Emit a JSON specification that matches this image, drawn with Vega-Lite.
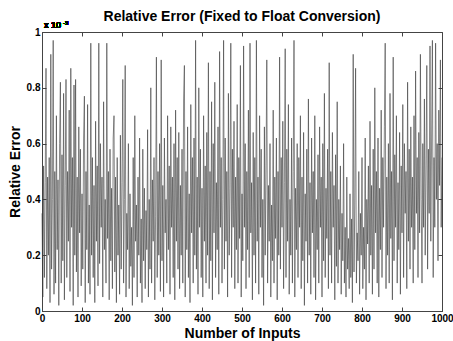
{
"$schema":"https://vega.github.io/schema/vega-lite/v6.json",
"width":400,"height":279,
"autosize":{"type":"none"},
"padding":{"left":42,"top":32,"right":11,"bottom":30},
"background":"white",
"title":{"text":"Relative Error (Fixed to Float Conversion)","font":"Liberation Sans","fontSize":14,"fontWeight":"bold","color":"black","anchor":"middle","offset":-4,"frame":"group"},
"config":{"view":{"stroke":"#444","strokeWidth":1},"axis":{"labelFont":"Liberation Sans","labelFontWeight":"bold","labelFontSize":10,"labelColor":"black","titleFont":"Liberation Sans","titleFontWeight":"bold","titleFontSize":14,"titleColor":"black","grid":false,"domainColor":"#444","tickColor":"#444","tickSize":-4,"labelOverlap":false,"labelBound":false,"labelFlush":false,"labelPadding":6}},
"resolve":{"axis":{"x":"independent","y":"independent"}},
"data":{"values":[
{"x":0,"y":0.35},{"x":2,"y":0.05},{"x":4,"y":0.52},{"x":6,"y":0.12},{"x":8,"y":0.46},
{"x":10,"y":0.87},{"x":12,"y":0.08},{"x":14,"y":0.48},{"x":16,"y":0.2},{"x":18,"y":0.55},
{"x":20,"y":0.03},{"x":22,"y":0.92},{"x":24,"y":0.15},{"x":26,"y":0.4},{"x":28,"y":0.97},
{"x":30,"y":0.06},{"x":32,"y":0.5},{"x":34,"y":0.1},{"x":36,"y":0.7},{"x":38,"y":0.22},
{"x":40,"y":0.47},{"x":42,"y":0.02},{"x":44,"y":0.6},{"x":46,"y":0.82},{"x":48,"y":0.1},
{"x":50,"y":0.56},{"x":52,"y":0.18},{"x":54,"y":0.78},{"x":56,"y":0.04},{"x":58,"y":0.45},
{"x":60,"y":0.83},{"x":62,"y":0.12},{"x":64,"y":0.5},{"x":66,"y":0.25},{"x":68,"y":0.72},
{"x":70,"y":0.07},{"x":72,"y":0.87},{"x":74,"y":0.3},{"x":76,"y":0.55},{"x":78,"y":0.02},
{"x":80,"y":0.81},{"x":82,"y":0.2},{"x":84,"y":0.83},{"x":86,"y":0.14},{"x":88,"y":0.48},
{"x":90,"y":0.05},{"x":92,"y":0.66},{"x":94,"y":0.28},{"x":96,"y":0.58},{"x":98,"y":0.09},
{"x":100,"y":0.42},{"x":102,"y":0.15},{"x":104,"y":0.62},{"x":106,"y":0.77},{"x":108,"y":0.03},
{"x":110,"y":0.5},{"x":112,"y":0.22},{"x":114,"y":0.74},{"x":116,"y":0.1},{"x":118,"y":0.38},
{"x":120,"y":0.06},{"x":122,"y":0.96},{"x":124,"y":0.2},{"x":126,"y":0.55},{"x":128,"y":0.12},
{"x":130,"y":0.45},{"x":132,"y":0.03},{"x":134,"y":0.68},{"x":136,"y":0.25},{"x":138,"y":0.52},
{"x":140,"y":0.09},{"x":142,"y":0.96},{"x":144,"y":0.17},{"x":146,"y":0.6},{"x":148,"y":0.3},
{"x":150,"y":0.48},{"x":152,"y":0.05},{"x":154,"y":0.75},{"x":156,"y":0.22},{"x":158,"y":0.4},
{"x":160,"y":0.1},{"x":162,"y":0.96},{"x":164,"y":0.26},{"x":166,"y":0.5},{"x":168,"y":0.04},
{"x":170,"y":0.58},{"x":172,"y":0.18},{"x":174,"y":0.44},{"x":176,"y":0.08},{"x":178,"y":0.62},
{"x":180,"y":0.7},{"x":182,"y":0.14},{"x":184,"y":0.48},{"x":186,"y":0.03},{"x":188,"y":0.55},
{"x":190,"y":0.2},{"x":192,"y":0.38},{"x":194,"y":0.06},{"x":196,"y":0.63},{"x":198,"y":0.15},
{"x":200,"y":0.46},{"x":202,"y":0.83},{"x":204,"y":0.1},{"x":206,"y":0.4},{"x":208,"y":0.88},
{"x":210,"y":0.05},{"x":212,"y":0.35},{"x":214,"y":0.22},{"x":216,"y":0.6},{"x":218,"y":0.08},
{"x":220,"y":0.42},{"x":222,"y":0.16},{"x":224,"y":0.3},{"x":226,"y":0.02},{"x":228,"y":0.55},
{"x":230,"y":0.12},{"x":232,"y":0.7},{"x":234,"y":0.25},{"x":236,"y":0.38},{"x":238,"y":0.05},
{"x":240,"y":0.48},{"x":242,"y":0.2},{"x":244,"y":0.62},{"x":246,"y":0.1},{"x":248,"y":0.33},
{"x":250,"y":0.03},{"x":252,"y":0.58},{"x":254,"y":0.18},{"x":256,"y":0.44},{"x":258,"y":0.08},
{"x":260,"y":0.36},{"x":262,"y":0.22},{"x":264,"y":0.65},{"x":266,"y":0.05},{"x":268,"y":0.4},
{"x":270,"y":0.15},{"x":272,"y":0.8},{"x":274,"y":0.1},{"x":276,"y":0.47},{"x":278,"y":0.25},
{"x":280,"y":0.55},{"x":282,"y":0.04},{"x":284,"y":0.34},{"x":286,"y":0.91},{"x":288,"y":0.12},
{"x":290,"y":0.5},{"x":292,"y":0.2},{"x":294,"y":0.6},{"x":296,"y":0.07},{"x":298,"y":0.9},
{"x":300,"y":0.18},{"x":302,"y":0.45},{"x":304,"y":0.05},{"x":306,"y":0.62},{"x":308,"y":0.28},
{"x":310,"y":0.4},{"x":312,"y":0.1},{"x":314,"y":0.7},{"x":316,"y":0.22},{"x":318,"y":0.52},
{"x":320,"y":0.06},{"x":322,"y":0.66},{"x":324,"y":0.3},{"x":326,"y":0.48},{"x":328,"y":0.12},
{"x":330,"y":0.6},{"x":332,"y":0.04},{"x":334,"y":0.72},{"x":336,"y":0.25},{"x":338,"y":0.55},
{"x":340,"y":0.15},{"x":342,"y":0.64},{"x":344,"y":0.08},{"x":346,"y":0.45},{"x":348,"y":0.2},
{"x":350,"y":0.58},{"x":352,"y":0.1},{"x":354,"y":0.76},{"x":356,"y":0.88},{"x":358,"y":0.05},
{"x":360,"y":0.5},{"x":362,"y":0.22},{"x":364,"y":0.66},{"x":366,"y":0.12},{"x":368,"y":0.42},
{"x":370,"y":0.03},{"x":372,"y":0.74},{"x":374,"y":0.28},{"x":376,"y":0.55},{"x":378,"y":0.1},
{"x":380,"y":0.62},{"x":382,"y":0.2},{"x":384,"y":0.97},{"x":386,"y":0.15},{"x":388,"y":0.48},
{"x":390,"y":0.06},{"x":392,"y":0.8},{"x":394,"y":0.3},{"x":396,"y":0.58},{"x":398,"y":0.12},
{"x":400,"y":0.44},{"x":402,"y":0.05},{"x":404,"y":0.7},{"x":406,"y":0.25},{"x":408,"y":0.52},
{"x":410,"y":0.1},{"x":412,"y":0.64},{"x":414,"y":0.2},{"x":416,"y":0.89},{"x":418,"y":0.08},
{"x":420,"y":0.5},{"x":422,"y":0.18},{"x":424,"y":0.75},{"x":426,"y":0.04},{"x":428,"y":0.6},
{"x":430,"y":0.28},{"x":432,"y":0.82},{"x":434,"y":0.12},{"x":436,"y":0.46},{"x":438,"y":0.22},
{"x":440,"y":0.66},{"x":442,"y":0.06},{"x":444,"y":0.93},{"x":446,"y":0.3},{"x":448,"y":0.55},
{"x":450,"y":0.1},{"x":452,"y":0.4},{"x":454,"y":0.97},{"x":456,"y":0.15},{"x":458,"y":0.62},
{"x":460,"y":0.25},{"x":462,"y":0.5},{"x":464,"y":0.05},{"x":466,"y":0.78},{"x":468,"y":0.2},
{"x":470,"y":0.44},{"x":472,"y":0.96},{"x":474,"y":0.12},{"x":476,"y":0.58},{"x":478,"y":0.3},
{"x":480,"y":0.68},{"x":482,"y":0.08},{"x":484,"y":0.48},{"x":486,"y":0.22},{"x":488,"y":0.74},
{"x":490,"y":0.1},{"x":492,"y":0.55},{"x":494,"y":0.26},{"x":496,"y":0.88},{"x":498,"y":0.05},
{"x":500,"y":0.42},{"x":502,"y":0.18},{"x":504,"y":0.95},{"x":506,"y":0.3},{"x":508,"y":0.6},
{"x":510,"y":0.08},{"x":512,"y":0.5},{"x":514,"y":0.22},{"x":516,"y":0.72},{"x":518,"y":0.12},
{"x":520,"y":0.96},{"x":522,"y":0.28},{"x":524,"y":0.46},{"x":526,"y":0.04},{"x":528,"y":0.64},
{"x":530,"y":0.2},{"x":532,"y":0.55},{"x":534,"y":0.1},{"x":536,"y":0.97},{"x":538,"y":0.25},
{"x":540,"y":0.48},{"x":542,"y":0.06},{"x":544,"y":0.7},{"x":546,"y":0.3},{"x":548,"y":0.58},
{"x":550,"y":0.12},{"x":552,"y":0.4},{"x":554,"y":0.02},{"x":556,"y":0.66},{"x":558,"y":0.2},
{"x":560,"y":0.52},{"x":562,"y":0.9},{"x":564,"y":0.1},{"x":566,"y":0.45},{"x":568,"y":0.25},
{"x":570,"y":0.6},{"x":572,"y":0.05},{"x":574,"y":0.38},{"x":576,"y":0.18},{"x":578,"y":0.72},
{"x":580,"y":0.1},{"x":582,"y":0.48},{"x":584,"y":0.26},{"x":586,"y":0.62},{"x":588,"y":0.04},
{"x":590,"y":0.5},{"x":592,"y":0.2},{"x":594,"y":0.91},{"x":596,"y":0.15},{"x":598,"y":0.55},
{"x":600,"y":0.3},{"x":602,"y":0.68},{"x":604,"y":0.08},{"x":606,"y":0.46},{"x":608,"y":0.94},
{"x":610,"y":0.12},{"x":612,"y":0.58},{"x":614,"y":0.25},{"x":616,"y":0.74},{"x":618,"y":0.06},
{"x":620,"y":0.4},{"x":622,"y":0.2},{"x":624,"y":0.62},{"x":626,"y":0.1},{"x":628,"y":0.5},
{"x":630,"y":0.97},{"x":632,"y":0.05},{"x":634,"y":0.44},{"x":636,"y":0.22},{"x":638,"y":0.6},
{"x":640,"y":0.12},{"x":642,"y":0.55},{"x":644,"y":0.3},{"x":646,"y":0.7},{"x":648,"y":0.08},
{"x":650,"y":0.48},{"x":652,"y":0.18},{"x":654,"y":0.64},{"x":656,"y":0.02},{"x":658,"y":0.42},
{"x":660,"y":0.25},{"x":662,"y":0.58},{"x":664,"y":0.1},{"x":666,"y":0.76},{"x":668,"y":0.2},
{"x":670,"y":0.46},{"x":672,"y":0.06},{"x":674,"y":0.62},{"x":676,"y":0.28},{"x":678,"y":0.5},
{"x":680,"y":0.12},{"x":682,"y":0.7},{"x":684,"y":0.04},{"x":686,"y":0.4},{"x":688,"y":0.22},
{"x":690,"y":0.56},{"x":692,"y":0.1},{"x":694,"y":0.66},{"x":696,"y":0.3},{"x":698,"y":0.48},
{"x":700,"y":0.05},{"x":702,"y":0.6},{"x":704,"y":0.18},{"x":706,"y":0.78},{"x":708,"y":0.12},
{"x":710,"y":0.44},{"x":712,"y":0.26},{"x":714,"y":0.58},{"x":716,"y":0.08},{"x":718,"y":0.89},
{"x":720,"y":0.2},{"x":722,"y":0.5},{"x":724,"y":0.1},{"x":726,"y":0.64},{"x":728,"y":0.3},
{"x":730,"y":0.45},{"x":732,"y":0.04},{"x":734,"y":0.56},{"x":736,"y":0.16},{"x":738,"y":0.75},
{"x":740,"y":0.1},{"x":742,"y":0.4},{"x":744,"y":0.22},{"x":746,"y":0.52},{"x":748,"y":0.06},
{"x":750,"y":0.35},{"x":752,"y":0.18},{"x":754,"y":0.6},{"x":756,"y":0.1},{"x":758,"y":0.3},
{"x":760,"y":0.05},{"x":762,"y":0.48},{"x":764,"y":0.15},{"x":766,"y":0.26},{"x":768,"y":0.08},
{"x":770,"y":0.42},{"x":772,"y":0.12},{"x":774,"y":0.33},{"x":776,"y":0.03},{"x":778,"y":0.92},
{"x":780,"y":0.14},{"x":782,"y":0.38},{"x":784,"y":0.87},{"x":786,"y":0.1},{"x":788,"y":0.28},
{"x":790,"y":0.18},{"x":792,"y":0.5},{"x":794,"y":0.06},{"x":796,"y":0.35},{"x":798,"y":0.2},
{"x":800,"y":0.55},{"x":802,"y":0.08},{"x":804,"y":0.3},{"x":806,"y":0.15},{"x":808,"y":0.62},
{"x":810,"y":0.04},{"x":812,"y":0.4},{"x":814,"y":0.24},{"x":816,"y":0.52},{"x":818,"y":0.1},
{"x":820,"y":0.68},{"x":822,"y":0.2},{"x":824,"y":0.45},{"x":826,"y":0.06},{"x":828,"y":0.58},
{"x":830,"y":0.15},{"x":832,"y":0.8},{"x":834,"y":0.28},{"x":836,"y":0.5},{"x":838,"y":0.1},
{"x":840,"y":0.62},{"x":842,"y":0.05},{"x":844,"y":0.44},{"x":846,"y":0.22},{"x":848,"y":0.72},
{"x":850,"y":0.12},{"x":852,"y":0.55},{"x":854,"y":0.3},{"x":856,"y":0.66},{"x":858,"y":0.96},
{"x":860,"y":0.08},{"x":862,"y":0.48},{"x":864,"y":0.2},{"x":866,"y":0.6},{"x":868,"y":0.1},
{"x":870,"y":0.78},{"x":872,"y":0.26},{"x":874,"y":0.5},{"x":876,"y":0.04},{"x":878,"y":0.91},
{"x":880,"y":0.18},{"x":882,"y":0.56},{"x":884,"y":0.3},{"x":886,"y":0.7},{"x":888,"y":0.1},
{"x":890,"y":0.46},{"x":892,"y":0.22},{"x":894,"y":0.64},{"x":896,"y":0.06},{"x":898,"y":0.52},
{"x":900,"y":0.28},{"x":902,"y":0.74},{"x":904,"y":0.12},{"x":906,"y":0.6},{"x":908,"y":0.35},
{"x":910,"y":0.5},{"x":912,"y":0.08},{"x":914,"y":0.82},{"x":916,"y":0.25},{"x":918,"y":0.58},
{"x":920,"y":0.15},{"x":922,"y":0.66},{"x":924,"y":0.3},{"x":926,"y":0.48},{"x":928,"y":0.1},
{"x":930,"y":0.7},{"x":932,"y":0.22},{"x":934,"y":0.86},{"x":936,"y":0.35},{"x":938,"y":0.55},
{"x":940,"y":0.12},{"x":942,"y":0.64},{"x":944,"y":0.28},{"x":946,"y":0.92},{"x":948,"y":0.4},
{"x":950,"y":0.1},{"x":952,"y":0.6},{"x":954,"y":0.3},{"x":956,"y":0.76},{"x":958,"y":0.2},
{"x":960,"y":0.52},{"x":962,"y":0.88},{"x":964,"y":0.15},{"x":966,"y":0.58},{"x":968,"y":0.35},
{"x":970,"y":0.95},{"x":972,"y":0.25},{"x":974,"y":0.62},{"x":976,"y":0.97},{"x":978,"y":0.12},
{"x":980,"y":0.55},{"x":982,"y":0.3},{"x":984,"y":0.96},{"x":986,"y":0.4},{"x":988,"y":0.6},
{"x":990,"y":0.18},{"x":992,"y":0.72},{"x":994,"y":0.45},{"x":996,"y":0.9},{"x":998,"y":0.3},
{"x":1000,"y":0.55}
]},
"layer":[
{"mark":{"type":"line","color":"#3a3a3a","strokeWidth":0.6,"interpolate":"linear"},
"encoding":{
"x":{"field":"x","type":"quantitative","scale":{"domain":[0,1000],"nice":false},"axis":{"title":"Number of Inputs","values":[0,100,200,300,400,500,600,700,800,900,1000],"format":"d","titlePadding":3}},
"y":{"field":"y","type":"quantitative","scale":{"domain":[0,1],"nice":false},"axis":{"title":"Relative Error","values":[0,0.2,0.4,0.6,0.8,1],"format":"~g","titlePadding":4}}}},
{"mark":{"type":"text","align":"left","baseline":"bottom","dx":2,"dy":-2,"font":"Liberation Sans","fontSize":9,"color":"black"},
"encoding":{"x":{"datum":0,"type":"quantitative","axis":null},"y":{"datum":1,"type":"quantitative","axis":null},"text":{"value":"x 10"}}},
{"mark":{"type":"text","align":"left","baseline":"bottom","dx":21,"dy":-6,"font":"Liberation Sans","fontSize":6,"color":"black"},
"encoding":{"x":{"datum":0,"type":"quantitative","axis":{"orient":"top","title":null,"labels":false,"domain":false,"values":[0,100,200,300,400,500,600,700,800,900,1000]}},"y":{"datum":1,"type":"quantitative","axis":{"orient":"right","title":null,"labels":false,"domain":false,"values":[0,0.2,0.4,0.6,0.8,1]}},"text":{"value":"-3"}}}
]
}
